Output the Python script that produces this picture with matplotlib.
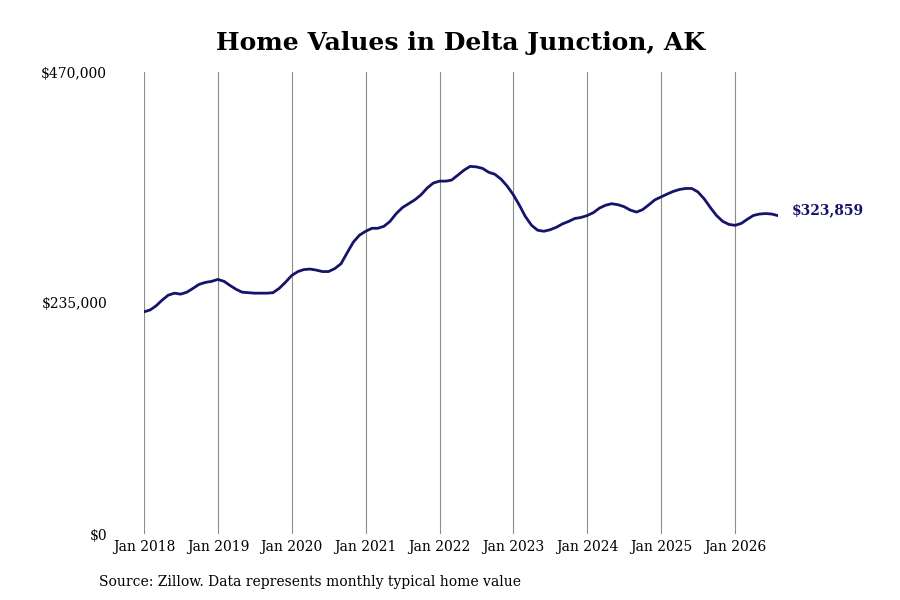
import numpy as np
import pandas as pd
import matplotlib
matplotlib.use('Agg')
import matplotlib.pyplot as plt
import matplotlib.dates as mdates
from matplotlib.ticker import FuncFormatter

# Monthly typical home value, Jan 2018 - Aug 2026 (in $1000)
start_month = '2018-01-01'
values_2018 = [226, 228, 232, 238, 243, 245, 244, 246, 250, 254, 256, 257]
values_2019 = [259, 257, 253, 249, 246, 245.5, 245, 245, 245, 245.5, 250, 256]
values_2020 = [263, 267, 269, 269.5, 268.5, 267, 267, 270, 275, 286, 297, 304]
values_2021 = [308, 311, 311, 313, 318, 326, 332, 336, 340, 345, 352, 357]
values_2022 = [359, 359, 360, 365, 370, 374, 373.5, 372, 368, 366, 361, 354]
values_2023 = [345, 334, 323, 314, 309, 308, 309.5, 312, 315.5, 318, 321, 322]
values_2024 = [324, 327, 331.5, 334.5, 336, 335, 333, 329.5, 327.5, 330, 335, 340]
values_2025 = [343, 346, 348.5, 350.5, 351.5, 351.5, 348, 341, 332, 324, 318, 315]
values_2026 = [314, 316, 320, 324, 325.5, 326, 325.5, 323.859]

y_ticks = [0, 235000, 470000]
last_label = '$323,859'
title = 'Home Values in Delta Junction, AK'
source = 'Source: Zillow. Data represents monthly typical home value'

values = np.array(values_2018 + values_2019 + values_2020 + values_2021 +
                  values_2022 + values_2023 + values_2024 + values_2025 +
                  values_2026) * 1000
dates = pd.date_range(start_month, periods=len(values), freq='MS')

plt.rcParams['font.family'] = 'DejaVu Serif'
line_colour = '#15146a'

fig = plt.figure(figsize=(9, 6), dpi=100)
ax = fig.add_axes([144/900, 1 - 534/600, (778 - 144)/900, (534 - 72)/600])

ax.plot(dates, values, color=line_colour, linewidth=2.0, solid_capstyle='round')

ax.set_xlim(dates[0], dates[-1])
ax.set_ylim(0, 470000)

# Year gridlines
ax.xaxis.set_major_locator(mdates.YearLocator())
ax.xaxis.set_major_formatter(mdates.DateFormatter('Jan %Y'))
ax.grid(axis='x', color='#8c8c8c', linewidth=0.8)
ax.set_axisbelow(True)

ax.set_yticks(y_ticks)
ax.yaxis.set_major_formatter(FuncFormatter(lambda v, p: f'${v:,.0f}'))

for s in ax.spines.values():
    s.set_visible(False)

ax.tick_params(axis='x', length=0, labelsize=10, pad=4)
ax.tick_params(axis='y', length=0, labelsize=10, pad=26.5)

ax.annotate(last_label, xy=(dates[-1], values[-1]), xytext=(10, 4),
            textcoords='offset points', va='center', ha='left',
            color=line_colour, fontsize=10, fontweight='bold')

fig.text(461/900, 1 - 43/600, title, ha='center', va='center',
         fontsize=18, fontweight='bold')
fig.text(99/900, 1 - 582/600, source, ha='left', va='center', fontsize=10)

fig.savefig('out.png', dpi=100)
